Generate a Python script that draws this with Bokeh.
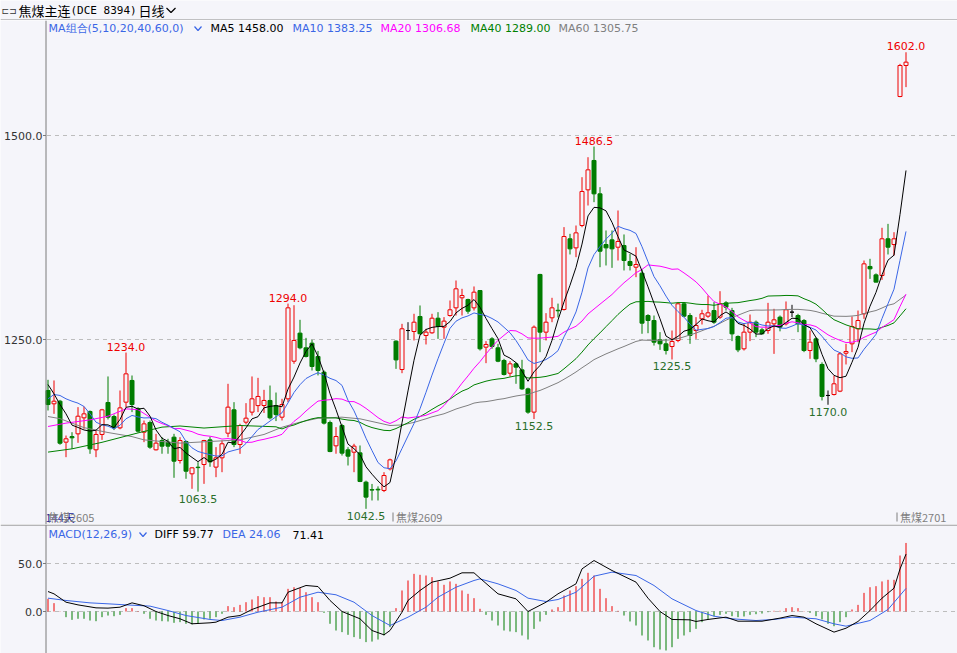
import numpy as np
from bokeh.plotting import figure
from bokeh.layouts import column
from bokeh.models import Range1d, Span, ColumnDataSource
from bokeh.core.properties import value
from bokeh.embed import file_html
from bokeh.resources import INLINE

# ---------------- data ----------------
open_ = [1187.5, 1171.2, 1174.4, 1124.2, 1131.0, 1134.4, 1154.0, 1161.8, 1114.8, 1133.6,
         1172.8, 1155.6, 1141.7, 1173.2, 1199.8, 1165.0, 1136.4, 1148.3, 1114.8, 1126.2,
         1124.2, 1130.3, 1101.7, 1125.0, 1085.4, 1093.5, 1096.8, 1127.0, 1093.6, 1105.0,
         1135.2, 1163.8, 1121.3, 1148.7, 1161.0, 1169.0, 1169.1, 1175.3, 1169.0, 1154.8,
         1177.3, 1223.4, 1257.8, 1239.8, 1245.5, 1229.2, 1210.0, 1148.3, 1119.7, 1144.6,
         1114.8, 1111.9, 1111.1, 1075.2, 1066.0, 1066.5, 1065.0, 1091.5, 1248.0, 1213.2,
         1261.0, 1259.8, 1278.2, 1254.9, 1258.2, 1276.1, 1265.1, 1279.4, 1288.8, 1301.1,
         1299.0, 1288.8, 1310.0, 1240.6, 1250.8, 1239.8, 1224.3, 1208.7, 1220.2, 1212.8,
         1189.5, 1161.0, 1329.7, 1259.0, 1276.6, 1285.8, 1286.8, 1373.4, 1362.3, 1389.7,
         1433.4, 1469.4, 1428.5, 1366.4, 1372.1, 1363.1, 1365.2, 1345.6, 1338.6, 1331.3,
         1279.4, 1273.3, 1249.6, 1244.7, 1241.4, 1248.8, 1293.7, 1279.4, 1261.0, 1275.3,
         1278.6, 1285.5, 1277.4, 1294.9, 1285.5, 1253.7, 1238.6, 1259.0, 1271.2, 1261.8,
         1261.0, 1269.2, 1277.4, 1269.2, 1283.5, 1279.4, 1273.3, 1236.5, 1250.8, 1219.4,
         1181.4, 1182.6, 1186.7, 1233.2, 1244.7, 1263.1, 1281.5, 1339.5, 1329.2, 1328.4,
         1373.4, 1366.4, 1547.8, 1585.8]
high = [1200.6, 1199.8, 1176.0, 1132.3, 1136.4, 1167.1, 1167.9, 1163.0, 1138.5, 1165.0,
        1204.7, 1158.0, 1187.5, 1234.0, 1205.9, 1167.0, 1150.7, 1150.7, 1134.4, 1130.5,
        1128.3, 1134.4, 1130.3, 1126.2, 1093.5, 1099.7, 1127.0, 1131.0, 1118.1, 1126.2,
        1195.7, 1173.2, 1146.7, 1172.0, 1204.7, 1203.0, 1188.3, 1193.6, 1185.0, 1177.3,
        1294.0, 1292.0, 1274.1, 1252.0, 1249.6, 1236.0, 1212.0, 1150.7, 1142.6, 1146.6,
        1118.0, 1122.2, 1120.1, 1077.0, 1073.0, 1070.0, 1087.4, 1104.0, 1249.0, 1269.2,
        1271.2, 1281.5, 1291.7, 1263.1, 1281.5, 1283.5, 1277.4, 1297.8, 1322.3, 1312.1,
        1300.0, 1315.0, 1310.5, 1248.0, 1252.9, 1244.7, 1226.3, 1223.4, 1222.2, 1225.1,
        1191.0, 1267.2, 1330.5, 1282.3, 1301.1, 1294.0, 1387.7, 1379.5, 1389.7, 1448.9,
        1473.4, 1486.5, 1436.7, 1383.6, 1383.6, 1408.1, 1378.7, 1355.0, 1363.1, 1336.0,
        1281.0, 1279.4, 1259.0, 1250.8, 1261.0, 1295.8, 1295.8, 1282.3, 1277.4, 1286.4,
        1303.9, 1295.8, 1309.2, 1297.0, 1288.8, 1255.0, 1269.2, 1280.6, 1273.3, 1264.0,
        1294.9, 1287.6, 1279.4, 1296.6, 1292.5, 1281.5, 1275.0, 1261.0, 1252.9, 1222.0,
        1187.5, 1205.9, 1234.5, 1244.7, 1278.2, 1285.5, 1346.8, 1348.9, 1331.0, 1386.9,
        1391.7, 1381.5, 1587.8, 1602.0]
low = [1163.0, 1158.9, 1121.0, 1105.8, 1116.0, 1123.4, 1140.5, 1109.9, 1105.8, 1127.0,
       1152.0, 1139.0, 1140.0, 1167.1, 1161.0, 1136.0, 1124.2, 1116.0, 1114.0, 1110.0,
       1110.0, 1080.5, 1098.0, 1079.3, 1067.0, 1063.5, 1073.1, 1094.0, 1081.3, 1087.4,
       1130.3, 1118.1, 1109.9, 1146.0, 1156.9, 1161.0, 1160.0, 1152.0, 1150.0, 1150.8,
       1173.2, 1220.2, 1238.0, 1228.0, 1212.0, 1206.0, 1145.8, 1111.9, 1110.0, 1107.8,
       1095.6, 1087.4, 1075.2, 1042.5, 1052.7, 1052.7, 1063.0, 1089.5, 1214.0, 1208.7,
       1249.6, 1248.8, 1256.0, 1243.9, 1257.0, 1250.8, 1250.8, 1278.0, 1279.4, 1279.4,
       1281.5, 1285.5, 1236.5, 1221.0, 1238.6, 1222.2, 1205.9, 1204.6, 1195.7, 1188.3,
       1159.0, 1152.5, 1234.5, 1248.8, 1271.2, 1277.0, 1285.5, 1354.2, 1350.9, 1387.6,
       1414.2, 1418.3, 1338.6, 1340.7, 1337.8, 1346.8, 1334.6, 1334.6, 1326.4, 1257.0,
       1257.7, 1242.6, 1237.3, 1231.6, 1225.5, 1246.7, 1277.4, 1244.7, 1250.8, 1268.4,
       1276.6, 1269.2, 1275.3, 1285.5, 1248.0, 1234.5, 1236.5, 1248.0, 1252.9, 1256.0,
       1257.0, 1232.4, 1260.0, 1267.2, 1277.4, 1259.0, 1234.5, 1226.3, 1222.2, 1175.3,
       1170.0, 1181.4, 1185.5, 1219.4, 1234.5, 1246.7, 1275.3, 1324.3, 1320.0, 1323.1,
       1354.2, 1352.9, 1546.9, 1559.3]
close = [1170.3, 1174.4, 1122.9, 1128.3, 1129.5, 1156.0, 1158.9, 1116.0, 1133.6, 1163.8,
         1154.8, 1141.7, 1166.2, 1207.9, 1170.3, 1137.7, 1146.6, 1118.1, 1123.0, 1119.3,
         1119.3, 1100.9, 1126.2, 1088.6, 1092.7, 1093.0, 1126.2, 1100.0, 1105.0, 1122.2,
         1167.1, 1121.3, 1144.6, 1153.6, 1177.3, 1180.2, 1175.3, 1154.0, 1158.0, 1170.3,
         1288.8, 1248.8, 1239.8, 1229.2, 1216.9, 1212.0, 1147.5, 1112.7, 1131.1, 1110.7,
         1107.0, 1119.3, 1076.0, 1056.8, 1065.5, 1065.7, 1083.3, 1102.5, 1225.0, 1263.1,
         1261.0, 1271.2, 1257.0, 1259.0, 1276.1, 1265.9, 1272.5, 1286.4, 1312.1, 1303.9,
         1284.7, 1308.0, 1238.6, 1243.9, 1241.4, 1223.4, 1207.1, 1220.2, 1216.1, 1189.5,
         1161.0, 1265.1, 1259.0, 1271.2, 1288.8, 1285.2, 1376.2, 1361.1, 1380.7, 1431.4,
         1457.9, 1428.5, 1358.2, 1362.3, 1361.1, 1370.1, 1346.8, 1340.7, 1341.9, 1270.0,
         1273.3, 1246.7, 1244.7, 1236.5, 1247.6, 1293.7, 1278.6, 1254.9, 1267.2, 1281.5,
         1282.7, 1271.2, 1293.7, 1289.6, 1256.9, 1237.3, 1259.0, 1271.2, 1259.0, 1257.0,
         1271.2, 1274.1, 1265.1, 1286.4, 1283.5, 1269.2, 1236.5, 1246.7, 1226.3, 1180.2,
         1181.4, 1195.7, 1232.4, 1235.3, 1265.9, 1273.3, 1342.7, 1336.6, 1320.3, 1373.4,
         1363.1, 1373.4, 1585.8, 1589.9]

ma5_head_i = [0, 1, 2, 3]
ma5_head_v = [1194.8, 1183.4, 1170.3, 1158.9]
ma10_head_i = [0, 1, 2, 3, 4, 5, 6, 7, 8]
ma10_head_v = [1177.3, 1182.6, 1181.4, 1177.3, 1174.4, 1172.0, 1167.9, 1158.9, 1148.7]
ma20_head_i = [0, 3, 7, 10, 13, 15, 18]
ma20_head_v = [1143.4, 1147.5, 1151.5, 1156.0, 1165.0, 1164.0, 1150.0]
ma40_head_i = [0, 4, 9, 15, 19, 22, 26, 32, 38]
ma40_head_v = [1112.0, 1116.0, 1124.0, 1135.5, 1142.6, 1144.0, 1141.5, 1144.6, 1143.0]
ma60_head_i = [0, 2, 6, 10, 14, 16, 22, 27, 32, 36, 39, 42, 45, 49, 52, 57]
ma60_head_v = [1155.6, 1153.0, 1142.0, 1136.0, 1131.0, 1127.0, 1123.0, 1125.0, 1127.0,
               1133.6, 1142.5, 1148.7, 1153.5, 1154.8, 1152.8, 1144.6]

ma_names = ["MA5", "MA10", "MA20", "MA40", "MA60"]
ma_periods = [5, 10, 20, 40, 60]
ma_last = [1458.00, 1383.25, 1306.68, 1289.00, 1305.75]

# MACD
hist = [13.2, 8.7, 0.3, -5.9, -8.7, -7.6, -7.6, -9.4, -10.1, -5.9,
        -4.2, -4.9, -3.5, 3.5, 3.5, 0.5, -2.4, -7.6, -9.4, -10.1,
        -10.4, -11.8, -11.1, -12.8, -13.5, -12.8, -8.3, -7.6, -5.9, -2.4,
        5.6, 4.5, 6.9, 9.7, 12.5, 16.0, 14.9, 14.9, 10.4, 9.7,
        23.6, 25.3, 24.3, 20.1, 14.9, 9.7, -1.4, -12.8, -19.8, -21.5,
        -24.3, -26.7, -28.5, -31.9, -31.3, -29.2, -25.0, -16.3, 3.5, 21.9,
        32.3, 39.2, 38.2, 37.5, 35.8, 31.3, 27.8, 31.3, 28.8, 21.9,
        18.4, 13.9, 2.8, -3.5, -9.4, -14.6, -19.8, -20.8, -21.5, -25.0,
        -29.2, -18.1, -10.4, -3.5, 2.1, 4.5, 16.7, 21.9, 26.4, 34.0,
        40.3, 37.5, 23.6, 13.9, 5.6, 0.7, -4.2, -10.4, -14.6, -25.0,
        -30.2, -37.2, -39.6, -40.6, -37.2, -28.5, -25.0, -21.5, -18.1, -11.1,
        -8.3, -4.9, -3.5, -2.4, -4.9, -5.9, -5.2, -3.5, -2.8, -2.1,
        -0.7, 0.7, 0.7, 3.5, 4.5, 3.5, 0.3, -1.4, -4.9, -8.3,
        -12.8, -15.3, -11.1, -5.9, 2.1, 6.9, 19.4, 25.3, 26.4, 31.3,
        33.0, 33.0, 58.3, 71.41]
diff_i = [0, 1, 3, 5, 8, 10, 12, 14, 16, 18, 20, 22, 24, 27, 28, 30, 32, 34, 37, 39,
          40, 43, 45, 47, 49, 52, 54, 56, 57, 59, 60, 62, 64, 67, 69, 71, 72, 75, 78, 80,
          83, 85, 88, 89, 91, 94, 98, 100, 102, 104, 107, 108, 110, 113, 115, 119, 122, 124,
          126, 128, 131, 133, 135, 137, 139, 141, 142, 143]
diff_v = [20.8, 18.4, 9.7, 6.9, 3.8, 3.5, 4.5, 9.0, 6.0, 0.0, -4.2, -7.6, -12.8, -11.8, -11.1,
          -5.9, -4.2, 2.1, 9.0, 9.0, 20.1, 27.1, 26.0, 11.5, 0.0, -7.6, -19.8, -24.3, -19.8,
          -0.7, 11.5, 21.9, 30.6, 34.7, 40.3, 40.3, 34.7, 18.4, 13.2, 0.0, 9.7, 18.4, 28.8,
          44.4, 53.1, 42.7, 30.6, 13.9, 0.0, -8.3, -8.7, -10.4, -8.3, -5.9, -10.1, -10.1,
          -6.9, -4.2, -5.9, -12.8, -21.5, -17.4, -10.4, 1.0, 13.9, 24.3, 44.3, 59.77]
dea_i = [0, 3, 7, 10, 13, 17, 20, 23, 27, 29, 32, 35, 39, 42, 45, 48, 51, 54, 57, 60, 63,
         65, 68, 71, 72, 75, 78, 80, 83, 85, 88, 91, 94, 98, 101, 104, 108, 111, 114, 118,
         121, 124, 128, 131, 133, 137, 140, 143]
dea_v = [13.9, 11.5, 9.0, 8.0, 6.9, 5.6, 1.0, -4.2, -8.3, -9.4, -5.9, -0.7, 4.5, 14.9, 20.1,
         17.4, 9.7, -4.2, -14.6, -5.9, 4.5, 14.9, 25.3, 32.3, 34.0, 28.8, 21.9, 13.9, 10.4,
         12.5, 20.1, 36.8, 41.0, 37.5, 27.1, 13.2, 1.0, -4.9, -7.6, -9.4, -8.3, -5.9, -7.6,
         -12.8, -15.3, -9.4, 2.1, 24.06]
macd_last = [59.77, 24.06, 71.41]

main_ticks = [1250, 1500]
macd_ticks = [0, 50]
high_marks = [13, 40, 91, 143]
low_marks = [25, 53, 81, 104, 130]
contracts = ["焦煤2605", "焦煤2609", "焦煤2701"]
contract_start = [0, 58, 142]
days_label = "144天"
title_name = "焦煤主连"
title_code = "(DCE 8394)"
period_text = "日线"

# ---------------- styling / layout ----------------
N = len(close)
BG = "#f5f5fa"
RED = "#ee0000"
GREEN = "#007c00"
LOWC = "#2a6e2a"
BLUE = "#3a66e6"
MA_COLORS = ["#000000", BLUE, "#ff00ff", "#008000", "#808080"]
AXC = "#7a7a7a"
GRIDC = "#bdbdbd"
FONT = "DejaVu Sans"
CJK = "Noto Sans CJK SC"

W = 957
AXIS_PX = 45.5          # pixel column of the left axis line
X0 = -47.5 / 6.0        # frames span the full width; candle 0 sits at pixel 47.5
X1 = X0 + W / 6.0
Y_TOP = 1250 + (339 - 20) * 1.2255
Y_BOT = 1250 - (524 - 339) * 1.2255
M_TOP = (611 - 524) * 1.0417
M_BOT = (611 - 653) * 1.0417


def rx(px):
    return (px - 47.5) / 6.0


def ry(py):
    return 1250 + (339 - py) * 1.2255


def my(py):
    return (611 - py) * 1.0417


def moving(head_i, head_v, n):
    xs = list(head_i)
    ys = list(head_v)
    for i in range(n - 1, N):
        xs.append(i)
        ys.append(float(np.mean(close[i - n + 1:i + 1])))
    return xs, ys


def bare_fig(height, x_range, y_range):
    f = figure(width=W, height=height, x_range=x_range, y_range=y_range,
               output_backend="svg", toolbar_location=None, x_axis_location=None,
               y_axis_location=None, min_border=0, outline_line_color=None,
               background_fill_color=BG, border_fill_color=BG)
    f.grid.visible = False
    return f


def left_axis(f, ticks):
    # dashed grid lines, tick marks, tick labels and the axis line
    n = len(ticks)
    f.segment(x0=[rx(AXIS_PX + 1)] * n, y0=ticks, x1=[X1] * n, y1=ticks,
              line_color=GRIDC, line_width=1, line_dash="4 4")
    f.segment(x0=[rx(AXIS_PX - 3)] * n, y0=ticks, x1=[rx(AXIS_PX)] * n, y1=ticks,
              line_color=AXC, line_width=1)
    f.text(x=[rx(AXIS_PX - 3.5)] * n, y=ticks, text=["%.1f" % t for t in ticks],
           text_align="right", text_baseline="middle", text_color="#333333",
           text_font=value(FONT), text_font_size="11px")
    f.add_layout(Span(location=rx(AXIS_PX), dimension="height", line_color=AXC, line_width=1))


# ---------------- header ----------------
h = bare_fig(20, Range1d(0, W), Range1d(20, 0))
h.text(x=[1], y=[10], text=["⊏⊐"], text_font=value(FONT), text_font_size="9px",
       text_baseline="middle", text_color="#333333")
h.text(x=[18], y=[10], text=[title_name], text_font=value(CJK), text_font_size="13px",
       text_baseline="middle", text_color="#000000")
h.text(x=[70], y=[10], text=[title_code], text_font=value("DejaVu Sans Mono"),
       text_font_size="11px", text_baseline="middle", text_color="#000000")
h.text(x=[138], y=[10], text=[period_text], text_font=value(CJK), text_font_size="13px",
       text_baseline="middle", text_color="#000000")
h.line([166, 170.5, 175], [7.5, 12, 7.5], line_color="#000000", line_width=1.2)
h.add_layout(Span(location=19.5, dimension="width", line_color="#8a8a8a", line_width=1))

# ---------------- main candlestick panel ----------------
p = bare_fig(504, Range1d(X0, X1), Range1d(Y_BOT, Y_TOP))
left_axis(p, main_ticks)

idx = list(range(N))
cols, fills, tops, bots = [], [], [], []
for o, c in zip(open_, close):
    if c > o:
        cols.append(RED); fills.append(BG)
    elif c < o:
        cols.append(GREEN); fills.append(GREEN)
    else:
        cols.append("#000000"); fills.append("#000000")
    tops.append(max(o, c)); bots.append(min(o, c))
src = ColumnDataSource(dict(x=idx, h=high, l=low, top=tops, bot=bots, col=cols, fill=fills))
p.segment(x0="x", y0="l", x1="x", y1="h", line_color="col", line_width=1, source=src)
p.vbar(x="x", width=4.0 / 6.0, top="top", bottom="bot", fill_color="fill", line_color="col",
       line_width=1, source=src)

heads = [(ma5_head_i, ma5_head_v), (ma10_head_i, ma10_head_v), (ma20_head_i, ma20_head_v),
         (ma40_head_i, ma40_head_v), (ma60_head_i, ma60_head_v)]
for k in [4, 3, 2, 1, 0]:
    xs, ys = moving(heads[k][0], heads[k][1], ma_periods[k])
    p.line(xs, ys, line_color=MA_COLORS[k], line_width=1)

p.text(x=high_marks, y=[high[i] for i in high_marks], text=["%.1f" % high[i] for i in high_marks],
       text_align="center", text_baseline="bottom", y_offset=-2, text_color=RED,
       text_font=value(FONT), text_font_size="11px")
p.text(x=low_marks, y=[low[i] for i in low_marks], text=["%.1f" % low[i] for i in low_marks],
       text_align="center", text_baseline="top", y_offset=3, text_color=LOWC,
       text_font=value(FONT), text_font_size="11px")

# MA legend row
p.text(x=[rx(48)], y=[ry(28)], text=["MA组合(5,10,20,40,60,0)"], text_baseline="middle",
       text_color=BLUE, text_font=value(FONT), text_font_size="11px")
p.line([rx(194), rx(197.5), rx(201)], [ry(26), ry(30), ry(26)], line_color=BLUE, line_width=1.2)
leg_x = [210, 292, 380, 470, 558]
p.text(x=[rx(v) for v in leg_x], y=[ry(28)] * 5,
       text=["%s %.2f" % (n, v) for n, v in zip(ma_names, ma_last)],
       text_baseline="middle", text_color=MA_COLORS, text_font=value(FONT),
       text_font_size="11px")

# contract labels along the bottom
p.text(x=[rx(45)], y=[ry(516)], text=[days_label], text_baseline="middle",
       text_color="#1c1c9c", text_font=value(CJK), text_font_size="11px")
p.text(x=[s - 0.5 for s in contract_start], y=[ry(516)] * len(contracts), text=contracts,
       x_offset=3, text_baseline="middle", text_color="#7f7f7f",
       text_font=value(CJK), text_font_size="11px")
tick_x = [s - 0.5 for s in contract_start[1:]]
p.segment(x0=tick_x, y0=[ry(512)] * len(tick_x), x1=tick_x, y1=[ry(521)] * len(tick_x),
          line_color="#7f7f7f", line_width=1)

# ---------------- MACD panel ----------------
m = bare_fig(129, p.x_range, Range1d(M_BOT, M_TOP))
left_axis(m, macd_ticks)

hcols = [RED if v > 0 else GREEN for v in hist]
m.segment(x0=idx, y0=[0] * N, x1=idx, y1=hist, line_color=hcols, line_width=1)
m.line(dea_i, dea_v, line_color=BLUE, line_width=1)
m.line(diff_i, diff_v, line_color="#000000", line_width=1)

m.text(x=[rx(48)], y=[my(534)], text=["MACD(12,26,9)"], text_baseline="middle",
       text_color=BLUE, text_font=value(FONT), text_font_size="11px")
m.line([rx(139), rx(142.5), rx(146)], [my(532), my(536), my(532)], line_color=BLUE,
       line_width=1.2)
m.text(x=[rx(154), rx(222), rx(292)], y=[my(534)] * 3,
       text=["DIFF %.2f" % macd_last[0], "DEA %.2f" % macd_last[1], "%.2f" % macd_last[2]],
       text_baseline="middle", text_color=["#000000", BLUE, "#000000"],
       text_font=value(FONT), text_font_size="11px")
m.add_layout(Span(location=my(524.6), dimension="width", line_color="#8a8a8a", line_width=1))

layout = column(h, p, m, spacing=0)
open("out.html", "w").write(file_html(layout, INLINE))
